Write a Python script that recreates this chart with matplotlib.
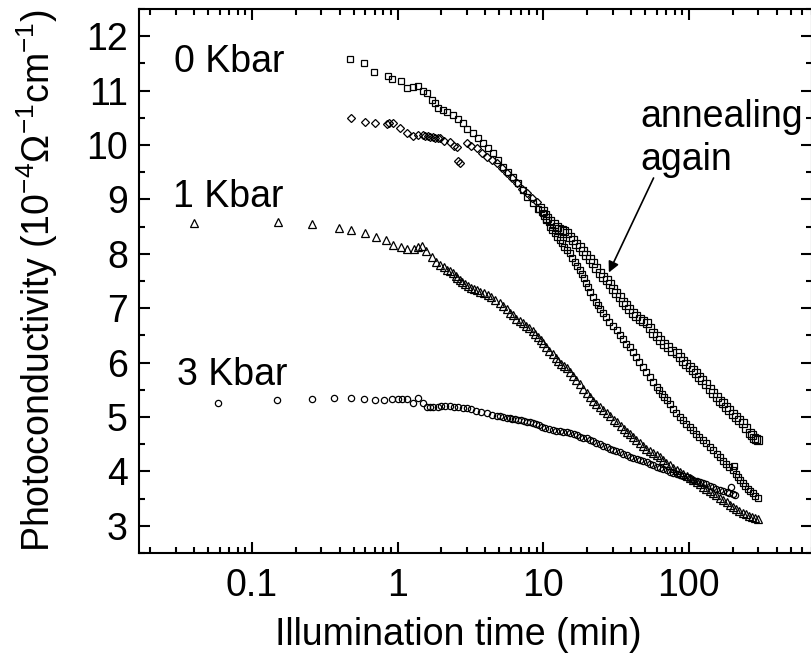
import matplotlib
matplotlib.use('Agg')
import matplotlib.pyplot as plt
from matplotlib.ticker import LogLocator, MultipleLocator, FuncFormatter, NullFormatter

plt.rcParams['font.family'] = ['Liberation Sans', 'DejaVu Sans']
plt.rcParams['mathtext.fontset'] = 'custom'
plt.rcParams['mathtext.rm'] = 'Liberation Sans'
plt.rcParams['mathtext.it'] = 'Liberation Sans:italic'

# 3 Kbar (circles)
t_3k = [0.059, 0.148, 0.258, 0.365, 0.477, 0.586, 0.698, 0.804, 0.912, 1.0, 1.08, 1.16, 1.27, 1.38,
        1.49, 1.59, 1.68, 1.75, 1.89,
        2.0, 2.12, 2.28, 2.45, 2.6, 2.8, 2.99, 3.2, 3.45, 3.75, 4.1, 4.45, 4.85, 5.05, 5.3,
        5.6, 5.89, 6.15, 6.4, 6.7, 7.0, 7.35, 7.7, 8.1, 8.47, 8.9, 9.3, 9.8, 10.3, 10.9,
        11.6, 12.3, 13.0, 13.7, 14.5, 15.3, 16.2, 17.1, 18.0, 18.9, 19.9, 20.9, 22.0, 23.2, 24.5,
        25.9, 27.3, 28.6, 30.0, 31.7, 33.5, 35.4, 37.4, 39.4, 41.5, 43.7, 46.0, 48.6, 51.4, 54.1,
        57.0, 60.0, 63.0, 66.7, 70.5, 74.1, 78.0, 82.4, 87.0, 91.7, 96.6, 102, 107, 113, 119,
        125, 132, 139, 146, 154, 163, 172, 182, 188, 195, 200, 206]
y_3k = [5.25, 5.31, 5.33, 5.35, 5.35, 5.33, 5.31, 5.31, 5.33, 5.33, 5.34, 5.33, 5.25, 5.35,
        5.25, 5.18, 5.18, 5.18, 5.18,
        5.2, 5.2, 5.2, 5.19, 5.18, 5.17, 5.16, 5.14, 5.11, 5.09, 5.07, 5.04, 5.02, 5.01, 5.0,
        4.99, 4.98, 4.97, 4.96, 4.95, 4.94, 4.93, 4.91, 4.9, 4.89, 4.87, 4.85, 4.82, 4.8, 4.78,
        4.76, 4.75, 4.74, 4.73, 4.72, 4.7, 4.68, 4.66, 4.64, 4.62, 4.61, 4.58, 4.55, 4.52, 4.5,
        4.47, 4.44, 4.42, 4.4, 4.37, 4.35, 4.32, 4.3, 4.27, 4.25, 4.23, 4.21, 4.19, 4.17, 4.14,
        4.11, 4.08, 4.06, 4.04, 4.02, 3.99, 3.97, 3.95, 3.93, 3.91, 3.89, 3.87, 3.85, 3.82, 3.8,
        3.78, 3.76, 3.73, 3.71, 3.68, 3.66, 3.64, 3.62, 3.6, 3.72, 3.58, 3.56]

# 1 Kbar (triangles)
t_1k = [0.04, 0.15, 0.26, 0.395, 0.48, 0.6, 0.71, 0.83, 0.93, 1.05, 1.16, 1.29, 1.38, 1.47, 1.58,
        1.72, 1.83,
        1.95, 2.1, 2.2, 2.3, 2.4, 2.5, 2.58, 2.67, 2.78, 2.9, 3.05, 3.2, 3.35, 3.5, 3.7,
        3.9, 4.15, 4.4, 4.7, 5.03, 5.3, 5.6, 5.9, 6.2, 6.55, 6.9, 7.25, 7.6, 8.0, 8.47,
        8.8, 9.2, 9.6, 10.0, 10.5, 11.0, 11.6, 12.2, 12.7, 13.3, 13.9, 14.5, 15.2, 16.0, 16.9,
        17.8, 18.8, 19.9, 20.9, 22.0, 23.2, 24.5, 25.9, 27.3, 28.8, 30.5, 32.2, 34.0, 35.7, 37.5,
        39.3, 41.2, 43.5, 46.0, 48.5, 51.0, 54.0, 57.0, 60.0, 63.0, 66.5, 70.0, 74.0, 78.0, 82.5,
        87.0, 91.5, 96.6, 102, 107, 113, 119, 125, 132, 139, 146, 154, 163, 172, 182,
        191, 200, 211, 222, 234, 246, 259, 272, 286, 300]
y_1k = [8.56, 8.58, 8.54, 8.47, 8.43, 8.39, 8.3, 8.25, 8.16, 8.12, 8.08, 8.08, 8.12, 8.15, 8.05,
        7.94, 7.85,
        7.8, 7.75, 7.71, 7.68, 7.64, 7.6, 7.56, 7.51, 7.48, 7.45, 7.41, 7.38, 7.35, 7.33, 7.3,
        7.28, 7.24, 7.2, 7.15, 7.1, 7.04, 6.98, 6.92, 6.87, 6.81, 6.76, 6.72, 6.68, 6.63, 6.58,
        6.52, 6.47, 6.41, 6.36, 6.29, 6.22, 6.15, 6.08, 6.03, 5.98, 5.94, 5.9, 5.83, 5.75, 5.68,
        5.6, 5.52, 5.44, 5.37, 5.3, 5.24, 5.18, 5.12, 5.07, 5.01, 4.95, 4.9, 4.84, 4.78, 4.73,
        4.68, 4.63, 4.57, 4.52, 4.47, 4.42, 4.37, 4.33, 4.3, 4.26, 4.21, 4.16, 4.11, 4.06, 4.02,
        3.98, 3.95, 3.92, 3.88, 3.84, 3.8, 3.76, 3.72, 3.68, 3.64, 3.6, 3.56, 3.52, 3.47, 3.43,
        3.38, 3.34, 3.3, 3.27, 3.24, 3.21, 3.18, 3.16, 3.14, 3.12]

# 0 Kbar (squares)
t_0k = [0.47, 0.586, 0.687, 0.857, 0.912, 1.05, 1.16, 1.27, 1.38, 1.49, 1.59, 1.72, 1.8, 1.89,
        2.04, 2.2, 2.39, 2.6, 2.8, 3.0, 3.28, 3.55, 3.85, 4.15, 4.51, 4.9, 5.27, 5.7, 6.18, 6.7,
        7.24, 7.8, 8.47, 9.2,
        9.93, 10.5, 11.1, 11.5, 12.0, 12.5, 13.0, 13.5, 14.0, 14.6, 15.2, 15.8, 16.5, 17.1, 17.8,
        18.4, 19.0, 19.6, 20.2, 21.1, 22.0, 22.9, 23.8, 24.7, 25.6, 27.0, 28.5, 30.2, 32.0, 33.7,
        35.5, 37.3, 39.3, 41.3, 43.5, 45.8, 48.2, 51.0, 54.0, 57.0, 60.1, 62.5, 65.0, 67.7, 70.5,
        74.0, 78.0, 82.0, 86.5, 91.0, 96.0, 101, 106, 112, 118, 125, 132, 139, 147, 155,
        163, 171, 180, 190, 200, 205, 210, 216, 225, 234, 244, 254, 264, 274, 285, 297]
y_0k = [11.58, 11.5, 11.34, 11.26, 11.21, 11.17, 11.04, 11.06, 11.08, 10.99, 10.95, 10.82, 10.77, 10.68,
        10.64, 10.6, 10.55, 10.47, 10.4, 10.3, 10.22, 10.12, 10.03, 9.95, 9.85, 9.72, 9.59, 9.5, 9.41, 9.3,
        9.17, 9.05, 8.93, 8.83,
        8.75, 8.62, 8.49, 8.43, 8.38, 8.31, 8.25, 8.19, 8.13, 8.07, 8.01, 7.93, 7.85, 7.77, 7.7,
        7.62, 7.55, 7.47, 7.39, 7.29, 7.2, 7.12, 7.05, 6.98, 6.91, 6.83, 6.75, 6.68, 6.6, 6.51,
        6.43, 6.35, 6.28, 6.19, 6.1, 6.01, 5.92, 5.83, 5.73, 5.64, 5.55, 5.49, 5.43, 5.37, 5.31,
        5.23, 5.15, 5.07, 5.0, 4.94, 4.88, 4.82, 4.76, 4.69, 4.63, 4.58, 4.52, 4.45, 4.39, 4.32,
        4.26, 4.2, 4.14, 4.08, 4.02, 4.1, 3.96, 3.9, 3.84, 3.78, 3.73, 3.68, 3.64, 3.6, 3.55, 3.51]

# annealing again: diamonds early, squares later
t_ann_d = [0.477, 0.596, 0.698, 0.843, 0.88, 0.927, 1.04, 1.16, 1.27, 1.38, 1.49, 1.55, 1.61, 1.68,
           1.75, 1.82, 1.89, 1.95, 2.1, 2.28, 2.45, 2.55, 2.62, 2.67, 2.99, 3.2, 3.5, 3.8, 4.1,
           4.45, 4.8, 5.2, 5.62, 6.1, 6.58, 7.1, 7.71, 8.35, 9.03]
y_ann_d = [10.49, 10.42, 10.4, 10.38, 10.4, 10.4, 10.31, 10.22, 10.16, 10.18, 10.18, 10.17, 10.16, 10.15,
           10.14, 10.13, 10.12, 10.12, 10.08, 10.05, 9.98, 9.96, 9.7, 9.67, 10.03, 9.98, 9.94, 9.86, 9.78,
           9.72, 9.67, 9.57, 9.48, 9.39, 9.3, 9.2, 9.11, 9.03, 8.95]
t_ann_s = [9.5, 9.9, 10.3, 10.7, 11.2, 11.8, 12.4, 12.9, 13.4, 13.9, 14.5, 15.2, 16.0, 16.9, 17.8,
           18.8, 19.8, 20.8, 21.9, 23.1, 24.4, 25.8, 27.3, 28.6, 30.0, 31.7, 33.5, 35.2, 37.0, 39.0,
           41.2, 43.5, 46.0, 48.7, 51.4, 54.0, 57.0, 60.0, 63.0, 67.0, 72.0, 77.0, 82.4, 86.5, 91.0,
           96.0, 101, 106, 112, 118, 124, 131, 139, 147, 155, 163, 172, 181, 190, 200,
           211, 222, 234, 247, 261, 270, 280, 289, 297]
y_ann_s = [8.85, 8.79, 8.72, 8.66, 8.6, 8.55, 8.49, 8.46, 8.43, 8.41, 8.38, 8.31, 8.25, 8.18, 8.12,
           8.05, 7.97, 7.9, 7.83, 7.74, 7.65, 7.58, 7.51, 7.44, 7.36, 7.28, 7.2, 7.12, 7.05, 6.98,
           6.91, 6.85, 6.8, 6.76, 6.72, 6.63, 6.55, 6.48, 6.41, 6.34, 6.28, 6.22, 6.17, 6.1, 6.03,
           5.97, 5.92, 5.86, 5.8, 5.74, 5.68, 5.6, 5.52, 5.44, 5.36, 5.3, 5.25, 5.19, 5.13, 5.06,
           5.0, 4.95, 4.89, 4.79, 4.7, 4.66, 4.62, 4.6, 4.57]

fig = plt.figure(figsize=(8.12, 6.66), dpi=100)
ax = fig.add_axes([139 / 812, 113 / 666, 673 / 812, 544 / 666])

mk = dict(linestyle='none', markerfacecolor='none', markeredgecolor='k', markeredgewidth=0.9)
ax.plot(t_3k, y_3k, marker='o', markersize=4.5, **mk)
ax.plot(t_1k, y_1k, marker='^', markersize=5.5, **mk)
ax.plot(t_0k, y_0k, marker='s', markersize=4.6, **mk)
ax.plot(t_ann_d, y_ann_d, marker='D', markersize=4.5, **mk)
ax.plot(t_ann_s, y_ann_s, marker='s', markersize=5.5, **mk)

ax.set_xscale('log')
ax.set_xlim(0.0168, 700)
ax.set_ylim(2.5, 12.5)

ax.xaxis.set_major_locator(LogLocator(base=10))
ax.xaxis.set_minor_locator(LogLocator(base=10, subs=range(2, 10)))
ax.xaxis.set_major_formatter(FuncFormatter(lambda v, p: '%g' % v))
ax.xaxis.set_minor_formatter(NullFormatter())
ax.yaxis.set_major_locator(MultipleLocator(1))
ax.yaxis.set_minor_locator(MultipleLocator(0.5))

for s in ax.spines.values():
    s.set_linewidth(1.5)
ax.tick_params(which='both', direction='in', top=True, right=True, width=1.5, labelsize=27)
ax.tick_params(which='major', length=8)
ax.tick_params(which='minor', length=4.5)
ax.tick_params(axis='x', pad=11)
ax.tick_params(axis='y', pad=8)

ax.set_xlabel('Illumination time (min)', fontsize=27)
ax.set_ylabel('Photoconductivity (10$^{-4}$Ω$^{-1}$cm$^{-1}$)', fontsize=27)
ax.xaxis.set_label_coords(0.474, -0.118)
ax.yaxis.set_label_coords(-0.117, 0.5)

ax.text(0.0291, 11.34, '0 Kbar', fontsize=27)
ax.text(0.0287, 8.86, '1 Kbar', fontsize=27)
ax.text(0.0305, 5.58, '3 Kbar', fontsize=27)
ax.text(46.5, 10.33, 'annealing', fontsize=27)
ax.text(46.5, 9.54, 'again', fontsize=27)
ax.annotate('', xy=(27.7, 7.61), xytext=(58.3, 9.44),
            arrowprops=dict(arrowstyle='-|>', color='k', lw=1.2, mutation_scale=16))

fig.savefig('out.png', dpi=100)
